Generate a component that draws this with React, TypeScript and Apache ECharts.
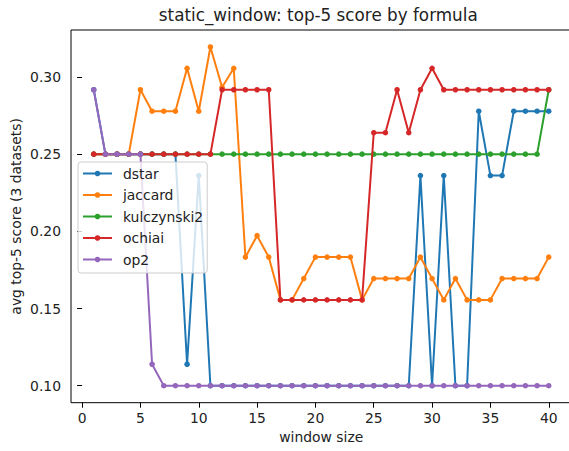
import React, { useEffect, useRef } from "react";
import * as echarts from "echarts";

const windowSizes: number[] = Array.from({ length: 40 }, (_, i) => i + 1);

const dstar = [
  0.2917, 0.25, 0.25, 0.25, 0.25, 0.25, 0.25, 0.25, 0.1139, 0.2361,
  0.1, 0.1, 0.1, 0.1, 0.1, 0.1, 0.1, 0.1, 0.1, 0.1,
  0.1, 0.1, 0.1, 0.1, 0.1, 0.1, 0.1, 0.1, 0.2361, 0.1,
  0.2361, 0.1, 0.1, 0.2778, 0.2361, 0.2361, 0.2778, 0.2778, 0.2778, 0.2778,
];
const jaccard = [
  0.25, 0.25, 0.25, 0.25, 0.2917, 0.2778, 0.2778, 0.2778, 0.3056, 0.2778,
  0.3194, 0.2933, 0.3056, 0.1833, 0.1972, 0.1833, 0.1556, 0.1556, 0.1694, 0.1833,
  0.1833, 0.1833, 0.1833, 0.1556, 0.1694, 0.1694, 0.1694, 0.1694, 0.1833, 0.1694,
  0.1556, 0.1694, 0.1556, 0.1556, 0.1556, 0.1694, 0.1694, 0.1694, 0.1694, 0.1833,
];
const kulczynski2 = [
  0.25, 0.25, 0.25, 0.25, 0.25, 0.25, 0.25, 0.25, 0.25, 0.25,
  0.25, 0.25, 0.25, 0.25, 0.25, 0.25, 0.25, 0.25, 0.25, 0.25,
  0.25, 0.25, 0.25, 0.25, 0.25, 0.25, 0.25, 0.25, 0.25, 0.25,
  0.25, 0.25, 0.25, 0.25, 0.25, 0.25, 0.25, 0.25, 0.25, 0.2917,
];
const ochiai = [
  0.25, 0.25, 0.25, 0.25, 0.25, 0.25, 0.25, 0.25, 0.25, 0.25,
  0.25, 0.2917, 0.2917, 0.2917, 0.2917, 0.2917, 0.1556, 0.1556, 0.1556, 0.1556,
  0.1556, 0.1556, 0.1556, 0.1556, 0.2639, 0.2639, 0.2917, 0.2639, 0.2917, 0.3056,
  0.2917, 0.2917, 0.2917, 0.2917, 0.2917, 0.2917, 0.2917, 0.2917, 0.2917, 0.2917,
];
const op2 = [
  0.2917, 0.25, 0.25, 0.25, 0.25, 0.1139, 0.1, 0.1, 0.1, 0.1,
  0.1, 0.1, 0.1, 0.1, 0.1, 0.1, 0.1, 0.1, 0.1, 0.1,
  0.1, 0.1, 0.1, 0.1, 0.1, 0.1, 0.1, 0.1, 0.1, 0.1,
  0.1, 0.1, 0.1, 0.1, 0.1, 0.1, 0.1, 0.1, 0.1, 0.1,
];

const seriesNames = ["dstar", "jaccard", "kulczynski2", "ochiai", "op2"];
const seriesValues = [dstar, jaccard, kulczynski2, ochiai, op2];
const colors = ["#1f77b4", "#ff7f0e", "#2ca02c", "#d62728", "#9467bd"];

const xTicks = [0, 5, 10, 15, 20, 25, 30, 35, 40];
const yTicks = [0.1, 0.15, 0.2, 0.25, 0.3];

const titleText = "static_window: top-5 score by formula";
const xName = "window size";
const yName = "avg top-5 score (3 datasets)";

const FONT = "DejaVu Sans";

export default function App() {
  const ref = useRef<HTMLDivElement>(null);
  useEffect(() => {
    if (!ref.current) return;
    const chart = echarts.init(ref.current, undefined, { renderer: "svg" });
    const gridLeft = 71;
    const gridTop = 30;
    const gridW = 500.5;
    const gridH = 372.7;
    chart.setOption({
      animation: false,
      backgroundColor: "#ffffff",
      textStyle: { fontFamily: FONT },
      grid: {
        left: gridLeft,
        top: gridTop,
        width: gridW,
        height: gridH,
        show: true,
        borderColor: "#000000",
        borderWidth: 1,
        backgroundColor: "transparent",
      },
      xAxis: {
        type: "value",
        min: -0.95,
        max: 41.95,
        splitLine: { show: false },
        axisLine: { show: false },
        axisTick: {
          show: true,
          length: 5,
          inside: false,
          customValues: xTicks,
          lineStyle: { color: "#000", width: 1 },
        },
        axisLabel: {
          customValues: xTicks,
          margin: 8,
          fontSize: 13.9,
          color: "#222",
          fontFamily: FONT,
          formatter: (v: number) => String(v),
        },
      },
      yAxis: {
        type: "value",
        min: 0.089,
        max: 0.3304,
        splitLine: { show: false },
        axisLine: { show: false },
        axisTick: {
          show: true,
          length: 5,
          inside: false,
          customValues: yTicks,
          lineStyle: { color: "#000", width: 1 },
        },
        axisLabel: {
          customValues: yTicks,
          margin: 10,
          fontSize: 13.9,
          color: "#222",
          fontFamily: FONT,
          formatter: (v: number) => v.toFixed(2),
        },
      },
      legend: {
        orient: "vertical",
        left: 78,
        top: 162,
        z: 10,
        data: seriesNames,
        itemWidth: 29,
        itemHeight: 7,
        itemGap: 7.5,
        padding: [4.5, 4, 6.5, 4],
        backgroundColor: "rgba(255,255,255,0.8)",
        borderColor: "#cccccc",
        borderWidth: 1,
        borderRadius: 3,
        selectedMode: false,
        textStyle: {
          fontSize: 13.9,
          color: "#222",
          fontFamily: FONT,
          padding: [0, 0, 0, 6],
        },
      },
      graphic: [
        {
          type: "text",
          x: gridLeft + gridW / 2 - 3,
          y: 15,
          style: {
            text: titleText,
            fontSize: 16.8,
            fontFamily: FONT,
            fill: "#222",
            align: "center",
            verticalAlign: "middle",
          },
        },
        {
          type: "text",
          x: gridLeft + gridW / 2,
          y: 437,
          style: {
            text: xName,
            fontSize: 13.9,
            fontFamily: FONT,
            fill: "#222",
            align: "center",
            verticalAlign: "middle",
          },
        },
        {
          type: "text",
          x: 16,
          y: gridTop + gridH / 2,
          rotation: Math.PI / 2,
          style: {
            text: yName,
            fontSize: 13.9,
            fontFamily: FONT,
            fill: "#222",
            align: "center",
            verticalAlign: "middle",
          },
        },
      ],
      series: seriesNames.map((name, i) => ({
        name,
        type: "line",
        data: windowSizes.map((x, j) => [x, seriesValues[i][j]]),
        symbol: "circle",
        symbolSize: 5.5,
        showSymbol: true,
        color: colors[i],
        lineStyle: { width: 2, color: colors[i] },
        itemStyle: { color: colors[i] },
        emphasis: { disabled: true },
        silent: true,
        z: 2 + i * 0.01,
      })),
    });
    return () => chart.dispose();
  }, []);
  return (
    <div
      ref={ref}
      style={{ position: "fixed", left: 0, top: 0, width: 575, height: 451 }}
    />
  );
}
